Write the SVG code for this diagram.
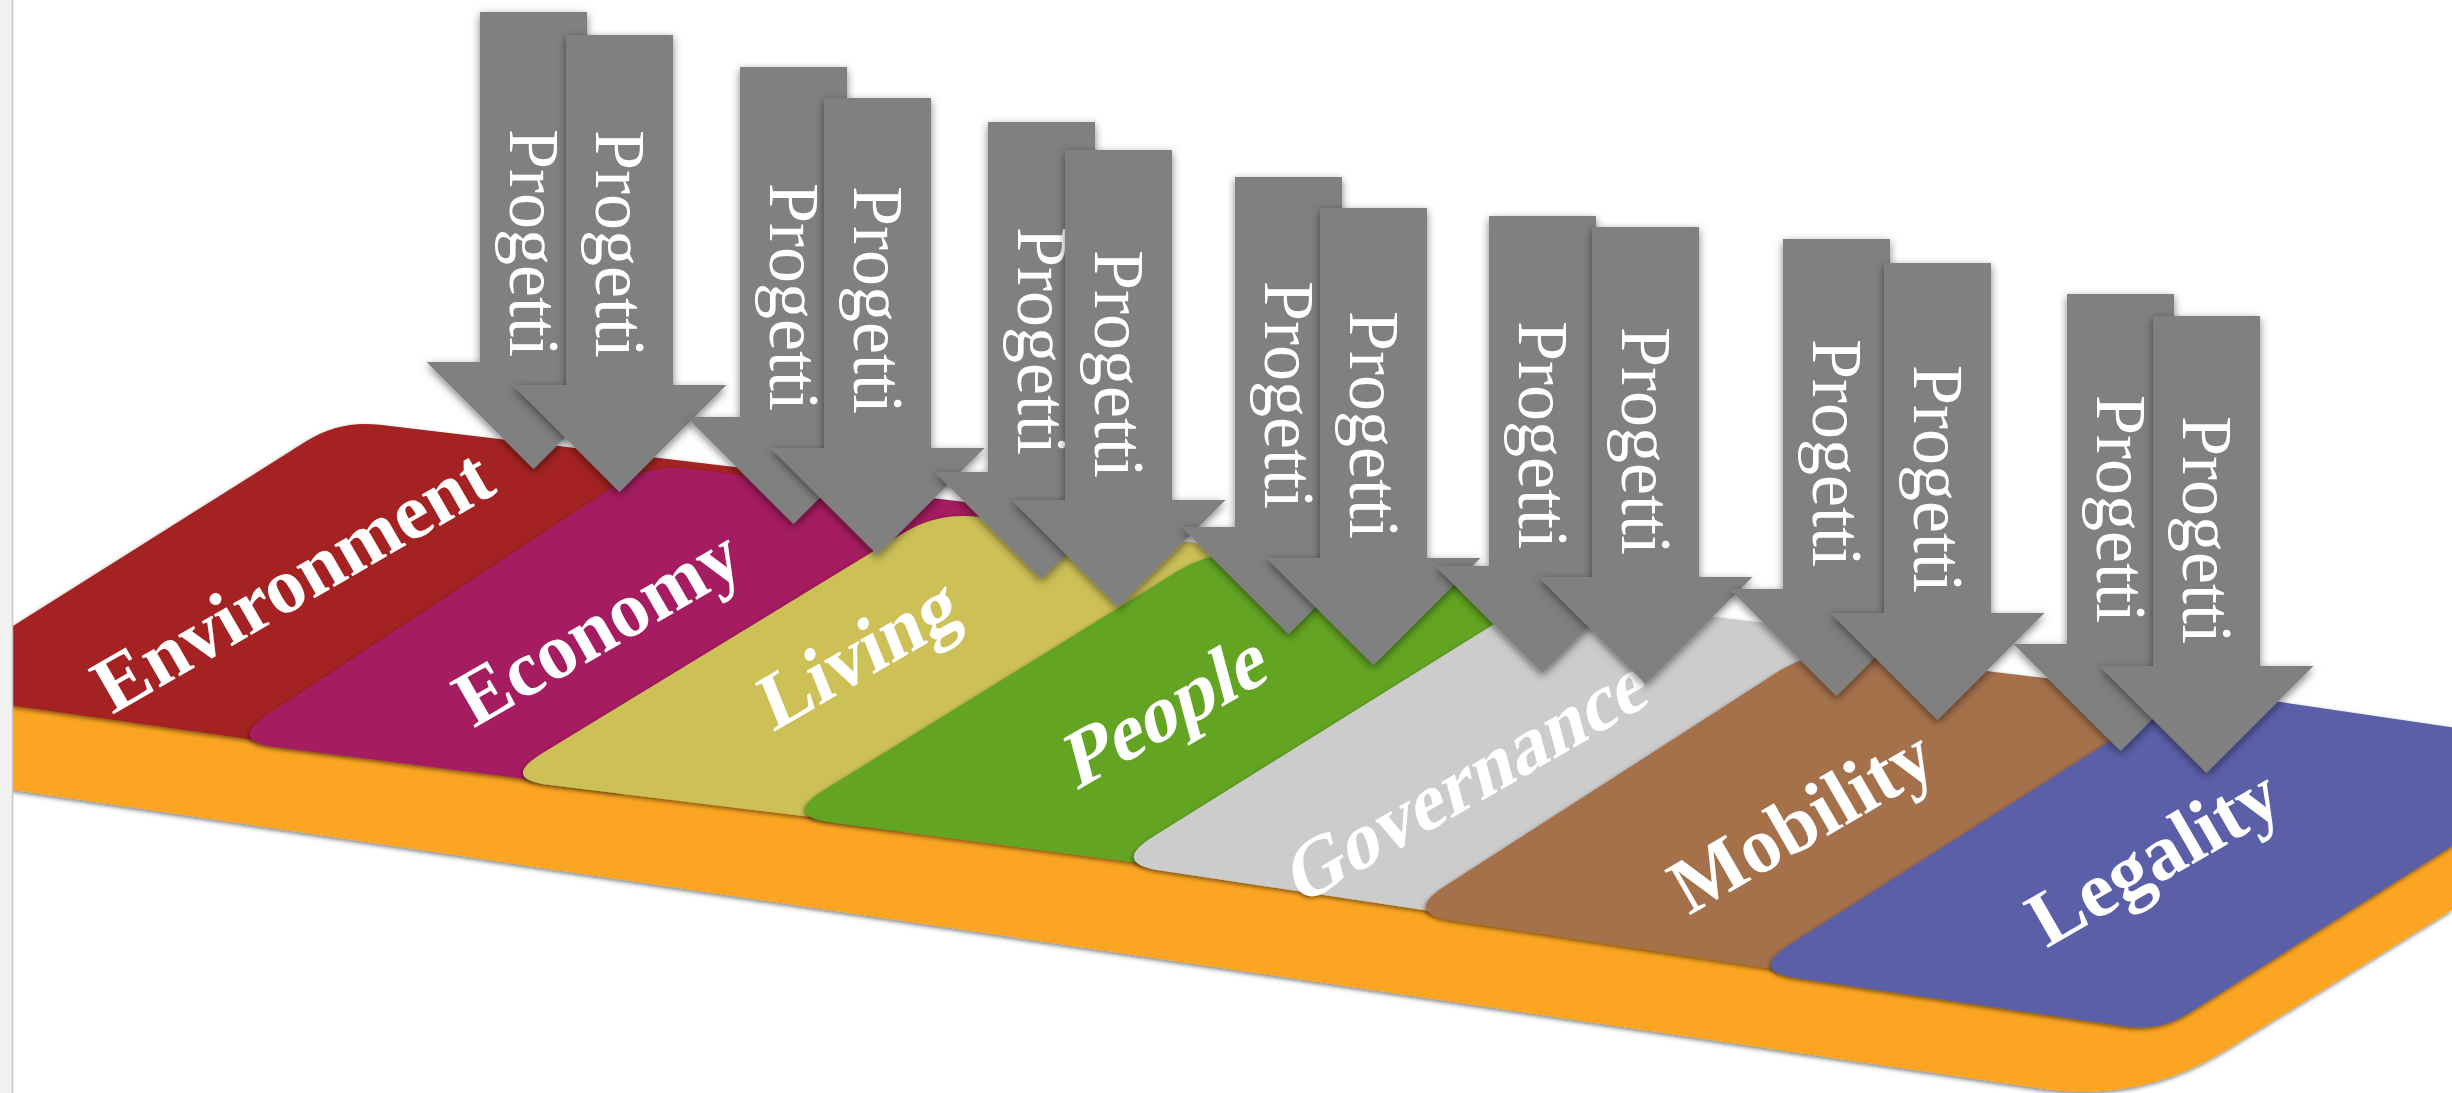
<svg xmlns="http://www.w3.org/2000/svg" width="2452" height="1093" viewBox="0 0 2452 1093">
<defs>
<filter id="sh" x="-10%" y="-10%" width="120%" height="120%"><feDropShadow dx="-1" dy="2" stdDeviation="2" flood-color="#000" flood-opacity="0.5"/></filter>
<filter id="ash" x="-30%" y="-10%" width="160%" height="130%"><feDropShadow dx="0" dy="3" stdDeviation="4" flood-color="#000" flood-opacity="0.5"/></filter>
</defs>
<style>
.lbl{font-family:"Liberation Serif","Times New Roman",serif;font-weight:bold;font-size:79px;fill:#fff;text-anchor:middle}
.prg{font-family:"Liberation Serif","Times New Roman",serif;font-size:72px;fill:#fff;text-anchor:middle}
.arr{fill:#808080}
.ag{filter:url(#ash)}
.tab{filter:url(#sh)}
</style>
<rect width="2452" height="1093" fill="#fff"/>
<g id="base" class="tab"><path d="M0,690 L2452,800 L2452,910 L2225,1050.4 Q2140,1103 2041,1088.5 L0,788 Z" fill="#FBA520"/></g>
<g id="environment" class="tab">
<path d="M-90,691 L347,753 L777,472 L379.7,424.8 Q340,420 306.2,441.3 Z" fill="#A52022"/>
<text class="lbl" transform="translate(292,580) rotate(-30)" y="27">Environment</text>
</g>
<g id="economy" class="tab">
<path d="M276.6,747.3 L620,791 L1041,511 L687.7,468.8 Q648,464 614.6,486 L268.8,713.5 Q227,741 276.6,747.3 Z" fill="#A51F61"/>
<text class="lbl" transform="translate(597,626) rotate(-30)" y="27">Economy</text>
</g>
<g id="living" class="tab">
<path d="M549.6,785.1 L902,828 L1340,560 L977.7,516.8 Q938,512 903.8,532.8 L542.7,753 Q500,779 549.6,785.1 Z" fill="#CCC056"/>
<text class="lbl" transform="translate(858,652) rotate(-30) skewX(-8)" y="27">Living</text>
</g>
<g id="people" class="tab">
<path d="M831.6,822.5 L1231,875 L1661,604 L1251.7,554.8 Q1212,550 1178,571 L824.5,789.7 Q782,816 831.6,822.5 Z" fill="#63A522"/>
<text class="lbl" transform="translate(1166,708) rotate(-30) skewX(-15)" y="27">People</text>
</g>
<g id="governance" class="tab">
<path d="M1160.4,870.4 L1523,925 L1951,645 L1578.7,600.8 Q1539,596 1505.1,617.2 L1153.4,836.5 Q1111,863 1160.4,870.4 Z" fill="#CCCCCC"/>
<text class="lbl" transform="translate(1467,778) rotate(-30) skewX(-15)" y="27">Governance</text>
</g>
<g id="mobility" class="tab">
<path d="M1452.4,920.5 L1868,983 L2277,706 L1851.7,654.8 Q1812,650 1778.4,671.6 L1445.1,886 Q1403,913 1452.4,920.5 Z" fill="#A5714C"/>
<text class="lbl" transform="translate(1801,820) rotate(-30)" y="27">Mobility</text>
</g>
<g id="legality" class="tab">
<path d="M1797.5,978.3 L2125.4,1026.5 Q2160,1031.6 2189.5,1012.8 L2604,749.6 L2231.6,694.8 Q2192,689 2158.2,710.4 L1790.2,944.2 Q1748,971 1797.5,978.3 Z" fill="#5A5EA8"/>
<text class="lbl" transform="translate(2153,856) rotate(-30)" y="27">Legality</text>
</g>
<g id="edge"><rect x="0" y="0" width="12" height="1093" fill="#F1F1F1"/><line x1="12.5" y1="0" x2="12.5" y2="1093" stroke="#C8C8C8" stroke-width="1.5"/></g>
<g id="connectors">
<g id="arrow1a" class="ag"><path class="arr" d="M480,12 H587 V362 H640.5 L533.5,469 L426.5,362 H480 Z"/><text class="prg" transform="translate(533.5,243) rotate(90)" y="24">Progetti</text></g>
<g id="arrow1b" class="ag"><path class="arr" d="M566,35 H673 V385 H726.5 L619.5,492 L512.5,385 H566 Z"/><text class="prg" transform="translate(619.5,244) rotate(90)" y="24">Progetti</text></g>
<g id="arrow2a" class="ag"><path class="arr" d="M740,67 H847 V417 H900.5 L793.5,524 L686.5,417 H740 Z"/><text class="prg" transform="translate(793.5,297) rotate(90)" y="24">Progetti</text></g>
<g id="arrow2b" class="ag"><path class="arr" d="M824,98 H931 V448 H984.5 L877.5,555 L770.5,448 H824 Z"/><text class="prg" transform="translate(877.5,300) rotate(90)" y="24">Progetti</text></g>
<g id="arrow3a" class="ag"><path class="arr" d="M988,122 H1095 V472 H1148.5 L1041.5,579 L934.5,472 H988 Z"/><text class="prg" transform="translate(1041.5,341) rotate(90)" y="24">Progetti</text></g>
<g id="arrow3b" class="ag"><path class="arr" d="M1065,150 H1172 V500 H1225.5 L1118.5,607 L1011.5,500 H1065 Z"/><text class="prg" transform="translate(1118.5,364) rotate(90)" y="24">Progetti</text></g>
<g id="arrow4a" class="ag"><path class="arr" d="M1235,177 H1342 V527 H1395.5 L1288.5,634 L1181.5,527 H1235 Z"/><text class="prg" transform="translate(1288.5,395) rotate(90)" y="24">Progetti</text></g>
<g id="arrow4b" class="ag"><path class="arr" d="M1320,208 H1427 V558 H1480.5 L1373.5,665 L1266.5,558 H1320 Z"/><text class="prg" transform="translate(1373.5,425) rotate(90)" y="24">Progetti</text></g>
<g id="arrow5a" class="ag"><path class="arr" d="M1489,216 H1596 V566 H1649.5 L1542.5,673 L1435.5,566 H1489 Z"/><text class="prg" transform="translate(1542.5,435) rotate(90)" y="24">Progetti</text></g>
<g id="arrow5b" class="ag"><path class="arr" d="M1592,227 H1699 V577 H1752.5 L1645.5,684 L1538.5,577 H1592 Z"/><text class="prg" transform="translate(1645.5,441) rotate(90)" y="24">Progetti</text></g>
<g id="arrow6a" class="ag"><path class="arr" d="M1783,239 H1890 V589 H1943.5 L1836.5,696 L1729.5,589 H1783 Z"/><text class="prg" transform="translate(1836.5,453) rotate(90)" y="24">Progetti</text></g>
<g id="arrow6b" class="ag"><path class="arr" d="M1884,263 H1991 V613 H2044.5 L1937.5,720 L1830.5,613 H1884 Z"/><text class="prg" transform="translate(1937.5,479) rotate(90)" y="24">Progetti</text></g>
<g id="arrow7a" class="ag"><path class="arr" d="M2067,294 H2174 V644 H2227.5 L2120.5,751 L2013.5,644 H2067 Z"/><text class="prg" transform="translate(2120.5,509) rotate(90)" y="24">Progetti</text></g>
<g id="arrow7b" class="ag"><path class="arr" d="M2153,316 H2260 V666 H2313.5 L2206.5,773 L2099.5,666 H2153 Z"/><text class="prg" transform="translate(2206.5,530) rotate(90)" y="24">Progetti</text></g>
</g>
</svg>
